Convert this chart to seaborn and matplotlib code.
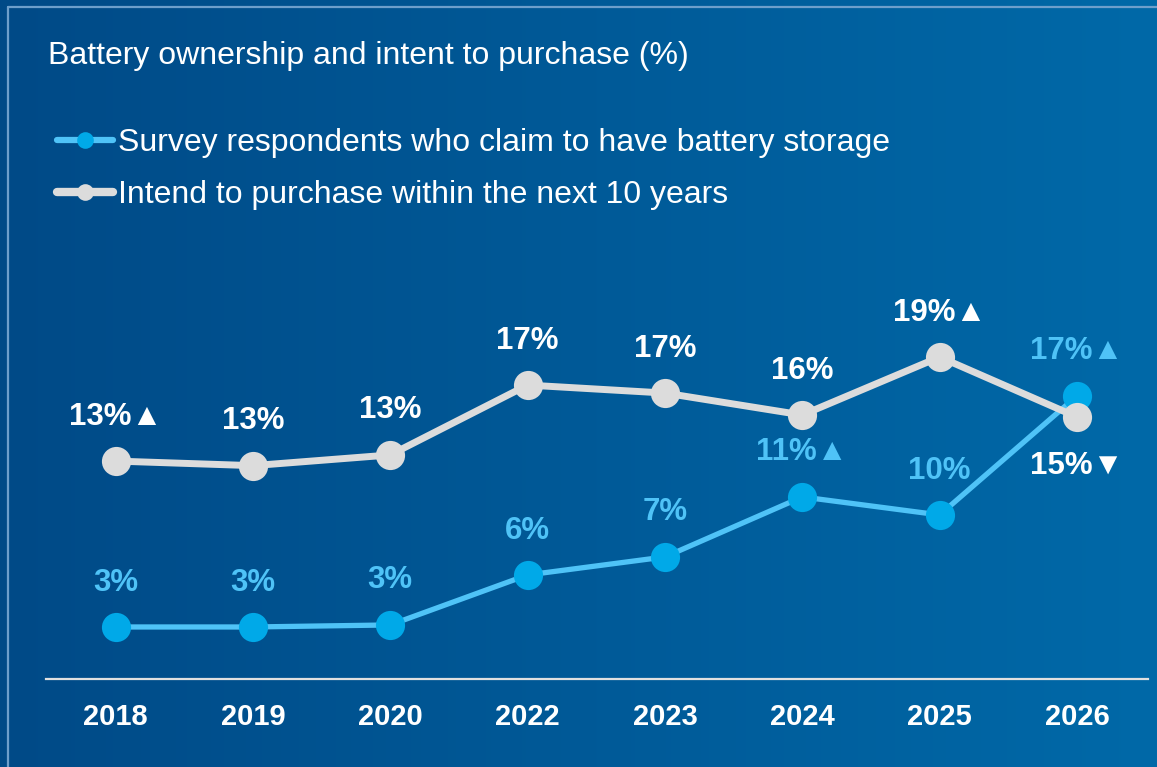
import numpy as np
import pandas as pd
import matplotlib
matplotlib.use("Agg")
import matplotlib.pyplot as plt
from matplotlib.lines import Line2D
import seaborn as sns

# --- data -------------------------------------------------------------
years = ["2018", "2019", "2020", "2022", "2023", "2024", "2025", "2026"]
have_battery = [3.06, 3.06, 3.18, 6.12, 7.18, 10.71, 9.65, 16.65]
intend_purchase = [12.82, 12.55, 13.18, 17.29, 16.82, 15.53, 18.94, 15.41]
have_marks = ["", "", "", "", "", "▲", "", "▲"]
intend_marks = ["▲", "", "", "", "", "", "▲", "▼"]

series_names = [
    "Survey respondents who claim to have battery storage",
    "Intend to purchase within the next 10 years",
]
title = "Battery ownership and intent to purchase (%)"

# --- style ------------------------------------------------------------
sns.set_theme(style="white")
plt.rcParams["font.family"] = ["Liberation Sans", "DejaVu Sans"]

BG_LEFT = np.array([0x00, 0x4A, 0x87]) / 255
BG_RIGHT = np.array([0x00, 0x69, 0xA8]) / 255
BLUE_LINE = "#4FC3F7"
BLUE_DOT = "#00A9E8"
GREY = "#DCDCDC"
WHITE = "#FFFFFF"

W, H = 1157, 767
fig = plt.figure(figsize=(W / 100, H / 100), dpi=100)

# gradient backdrop
bg = fig.add_axes([0, 0, 1, 1], zorder=-10)
t = np.linspace(0, 1, 512)[None, :, None]
grad = BG_LEFT[None, None, :] * (1 - t) + BG_RIGHT[None, None, :] * t
bg.imshow(grad, aspect="auto", extent=[0, 1, 0, 1])
bg.set_axis_off()

# thin frame along the top and left
frame_kw = dict(color="#6E9FCB", lw=1.6, transform=fig.transFigure)
fig.add_artist(Line2D([7.5 / W, 1], [1 - 7 / H, 1 - 7 / H], **frame_kw))
fig.add_artist(Line2D([7.5 / W, 7.5 / W], [0, 1 - 7 / H], **frame_kw))

# main plotting area
ax_left, ax_right = 46 / W, 1148 / W
ax_bottom, ax_top = (H - 679) / H, (H - 280) / H
ax = fig.add_axes([ax_left, ax_bottom, ax_right - ax_left, ax_top - ax_bottom])
ax.set_facecolor("none")

pos = np.arange(len(years))
df = pd.DataFrame({
    "pos": np.concatenate([pos, pos]),
    "value": have_battery + intend_purchase,
    "series": [series_names[0]] * len(years) + [series_names[1]] * len(years),
})

sns.lineplot(data=df[df.series == series_names[1]], x="pos", y="value",
             color=GREY, lw=5.0, marker="o", markersize=21,
             markerfacecolor=GREY, markeredgecolor=GREY, markeredgewidth=0,
             ax=ax, legend=False, zorder=3)
sns.lineplot(data=df[df.series == series_names[0]], x="pos", y="value",
             color=BLUE_LINE, lw=3.8, marker="o", markersize=21,
             markerfacecolor=BLUE_DOT, markeredgecolor=BLUE_DOT, markeredgewidth=0,
             ax=ax, legend=False, zorder=2)

ax.set_xlim(-0.506, 7.517)
ax.set_ylim(0, 23.47)

# value labels
LABEL_SIZE = 22.5
for i, (v, m) in enumerate(zip(intend_purchase, intend_marks)):
    dy = -35 if m == "▼" else 32
    ax.annotate(f"{v:.0f}%{m}", (i, v), xytext=(0, dy), textcoords="offset points",
                ha="center", va="center", fontsize=LABEL_SIZE, fontweight="bold",
                color=WHITE, zorder=5)
for i, (v, m) in enumerate(zip(have_battery, have_marks)):
    ax.annotate(f"{v:.0f}%{m}", (i, v), xytext=(0, 32), textcoords="offset points",
                ha="center", va="center", fontsize=LABEL_SIZE, fontweight="bold",
                color=BLUE_LINE, zorder=5)

# axes decoration
ax.set_xticks(pos)
ax.set_xticklabels(years, fontsize=21, fontweight="bold", color=WHITE)
ax.set_yticks([])
ax.tick_params(axis="x", length=0, pad=17)
ax.set_xlabel("")
ax.set_ylabel("")
for side in ["top", "left", "right"]:
    ax.spines[side].set_visible(False)
ax.spines["bottom"].set_color("#E0E0E0")
ax.spines["bottom"].set_linewidth(1.6)
ax.grid(False)

# title
fig.text(48 / W, 1 - 64 / H, title, fontsize=23, color=WHITE, va="baseline", ha="left")

# legend
handles = [
    Line2D([], [], color=BLUE_LINE, lw=4.5, marker="o", markersize=12,
           markerfacecolor=BLUE_DOT, markeredgewidth=0),
    Line2D([], [], color=GREY, lw=6, marker="o", markersize=12,
           markerfacecolor=GREY, markeredgewidth=0),
]
leg = fig.legend(handles, series_names, loc="upper left",
                 bbox_to_anchor=(57 / W, 1 - 128 / H), bbox_transform=fig.transFigure,
                 frameon=False, fontsize=23, labelcolor=WHITE,
                 handlelength=1.75, handletextpad=0.15, labelspacing=0.7,
                 borderpad=0, borderaxespad=0)

fig.savefig("out.png", dpi=100)
